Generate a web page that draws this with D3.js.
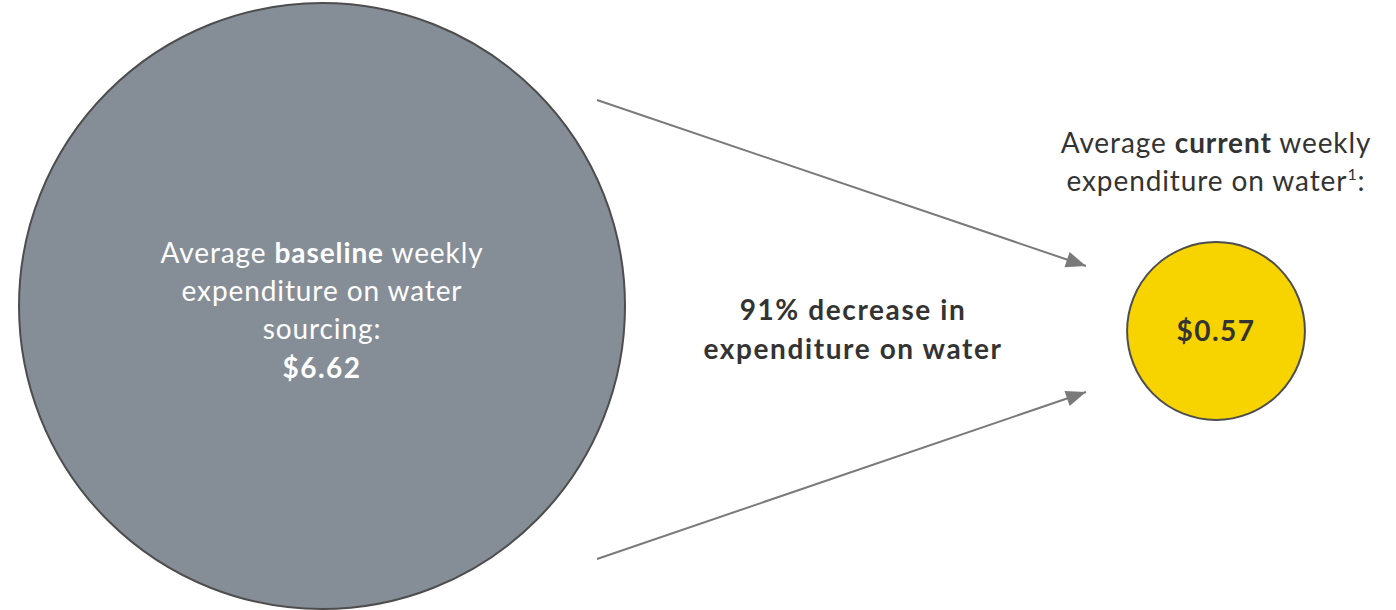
<!DOCTYPE html>
<html>
<head>
<meta charset="utf-8">
<script src="https://cdn.jsdelivr.net/npm/d3@7"></script>
<style>
  body { margin: 0; background: #fff; }
  svg text { font-family: Lato, "Open Sans", sans-serif; }
</style>
</head>
<body>
<script>
// values shown in the bubbles
const labels = ['baseline', 'current'];
const values = [6.62, 0.57];
const decreaseLabel = ['91% decrease in', 'expenditure on water'];

const w = 1396;
const h = 610;

const svg = d3.select('body')
    .append('svg')
    .attr('width', w)
    .attr('height', h);

// radius by area
const rScale = d3.scaleSqrt()
    .domain([0, d3.max(values)])
    .range([0, 303]);

const xScale = d3.scalePoint()
    .domain(labels)
    .range([322, 1216]);

const yPos = { baseline: 306, current: 331 };
const fills = { baseline: '#858e97', current: '#f7d400' };

// arrows
const arrows = [
    { x1: 597, y1: 100, x2: 1086, y2: 266 },
    { x1: 597, y1: 559, x2: 1086, y2: 392 }
];
svg.selectAll('line.arrow')
    .data(arrows)
    .enter()
    .append('line')
    .attr('class', 'arrow')
    .attr('x1', d => d.x1)
    .attr('y1', d => d.y1)
    .attr('x2', d => d.x2)
    .attr('y2', d => d.y2)
    .attr('stroke', '#7a7a7a')
    .attr('stroke-width', 2);

// arrow heads
arrows.forEach(a => {
    const ang = Math.atan2(a.y2 - a.y1, a.x2 - a.x1);
    const len = 20, half = 8;
    const bx = a.x2 - len * Math.cos(ang), by = a.y2 - len * Math.sin(ang);
    const px = -Math.sin(ang) * half, py = Math.cos(ang) * half;
    svg.append('path')
        .attr('d', `M${a.x2},${a.y2} L${bx + px},${by + py} L${bx - px},${by - py} Z`)
        .attr('fill', '#7a7a7a');
});

svg.selectAll('circle')
    .data(labels)
    .enter()
    .append('circle')
    .attr('cx', d => xScale(d))
    .attr('cy', d => yPos[d])
    .attr('r', (d, i) => rScale(values[i]))
    .attr('fill', d => fills[d])
    .attr('stroke', '#4d4d4d')
    .attr('stroke-width', 2);

// baseline text inside big circle
const bx = xScale('baseline');
const t1 = svg.append('text')
    .attr('text-anchor', 'middle')
    .attr('fill', '#fff')
    .style('font-size', '28px')
    .style('letter-spacing', '0.9px');
const l1 = t1.append('tspan').attr('x', bx).attr('y', 263);
l1.append('tspan').text('Average ');
l1.append('tspan').attr('font-weight', 'bold').text('baseline');
l1.append('tspan').text(' weekly');
t1.append('tspan').attr('x', bx).attr('y', 301).text('expenditure on water');
t1.append('tspan').attr('x', bx).attr('y', 339).text('sourcing:');
t1.append('tspan').attr('x', bx).attr('y', 378)
    .attr('font-weight', 'bold')
    .style('letter-spacing', '1.5px')
    .text('$' + values[0].toFixed(2));

// current value inside small circle
svg.append('text')
    .attr('x', xScale('current'))
    .attr('y', yPos.current + 10)
    .attr('text-anchor', 'middle')
    .attr('fill', '#333')
    .attr('font-weight', 'bold')
    .style('font-size', '28px')
    .style('letter-spacing', '1.5px')
    .text('$' + values[1].toFixed(2));

// label above small circle
const cx = xScale('current');
const t2 = svg.append('text')
    .attr('text-anchor', 'middle')
    .attr('fill', '#333')
    .style('font-size', '28px')
    .style('letter-spacing', '0.9px');
const l2 = t2.append('tspan').attr('x', cx).attr('y', 153);
l2.append('tspan').text('Average ');
l2.append('tspan').attr('font-weight', 'bold').text('current');
l2.append('tspan').text(' weekly');
const l3 = t2.append('tspan').attr('x', cx).attr('y', 191);
l3.append('tspan').text('expenditure on water');
l3.append('tspan').attr('dy', -11).style('font-size', '16px').text('1');
l3.append('tspan').attr('dy', 11).text(':');

// decrease label
svg.append('text')
    .attr('text-anchor', 'middle')
    .attr('fill', '#333')
    .attr('font-weight', 'bold')
    .style('font-size', '28px')
    .style('letter-spacing', '1.6px')
    .selectAll('tspan')
    .data(decreaseLabel)
    .enter()
    .append('tspan')
    .attr('x', 853)
    .attr('y', (d, i) => 320 + i * 39)
    .text(d => d);
</script>
</body>
</html>
